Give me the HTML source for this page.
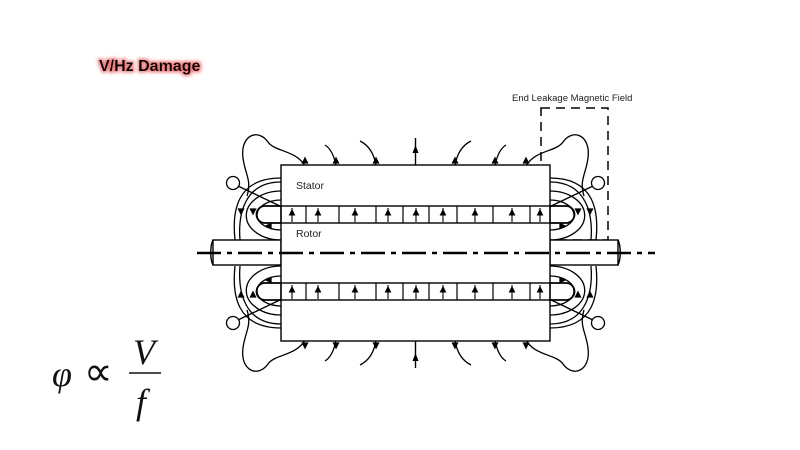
<!DOCTYPE html>
<html><head><meta charset="utf-8"><style>
html,body{margin:0;padding:0;background:#fff;width:800px;height:450px;overflow:hidden}
svg{position:absolute;left:0;top:0}
</style></head><body>
<svg width="800" height="450" viewBox="0 0 800 450" xmlns="http://www.w3.org/2000/svg">
<defs>
<filter id="glow" x="-20%" y="-50%" width="140%" height="200%">
<feMorphology operator="dilate" radius="1.5" in="SourceAlpha" result="d"/>
<feGaussianBlur in="d" stdDeviation="1.5" result="b"/>
<feFlood flood-color="#f08080"/><feComposite in2="b" operator="in" result="g"/>
<feMerge><feMergeNode in="g"/><feMergeNode in="SourceGraphic"/></feMerge>
</filter>
<g id="quad" fill="none" stroke="#000" stroke-width="1.3">
  <path d="M281,206 H265 A8.5,8.5 0 0 0 265,223 H281" stroke-width="1.8"/>
  <path d="M281,200 A24,15 0 0 0 281,230"/>
  <path d="M281,191 A34,24 0 0 0 281,240"/>
  <path d="M281,182 C244,182 238,215 240,240"/>
  <path d="M281,178 C236,178 232,212 235,240"/>
  <path d="M241,214 l-2.5,-5 l5,0 z" fill="#000"/>
  <path d="M253,214 l-2.5,-5 l5,0 z" fill="#000"/>
  <path d="M266,226 l5,-2.5 l0,5 z" fill="#000"/>
  <path d="M238,186 L284,208"/>
  <circle cx="233" cy="183" r="6.5" fill="#fff"/>
  <path d="M305,166 C296,150 275,152 268,142 C258,128 240,135 243,158 C245,174 252,180 247,196"/>
  <path d="M305,158 l-2.5,5 l5,0 z" fill="#000"/>
  <path d="M336,166 C334,155 330,148 325,145"/>
  <path d="M336,158 l-2.5,5 l5,0 z" fill="#000"/>
  <path d="M376,166 C374,152 368,145 360,141"/>
  <path d="M376,158 l-2.5,5 l5,0 z" fill="#000"/>
</g>
</defs>

<text x="99" y="71" font-family="Liberation Sans, sans-serif" font-weight="bold" font-size="16" fill="#000" filter="url(#glow)">V/Hz Damage</text>
<text x="512" y="101" font-family="Liberation Sans, sans-serif" font-size="9.5" fill="#222">End Leakage Magnetic Field</text>

<rect x="541" y="108" width="67" height="132" fill="none" stroke="#000" stroke-width="1.5" stroke-dasharray="9,6"/>

<use href="#quad"/>
<use href="#quad" transform="translate(831,0) scale(-1,1)"/>
<use href="#quad" transform="translate(0,506) scale(1,-1)"/>
<use href="#quad" transform="translate(831,506) scale(-1,-1)"/>

<g fill="none" stroke="#000" stroke-width="1.4">
  <rect x="213" y="240" width="68" height="25" fill="#fff"/>
  <rect x="550" y="240" width="68" height="25" fill="#fff"/>
  <path d="M213,240 C210,246 210,259 213,265"/>
  <path d="M618,240 C621,246 621,259 618,265"/>
  <rect x="281" y="165" width="269" height="176" fill="#fff"/>
  <rect x="281" y="206" width="269" height="17"/>
  <rect x="281" y="283" width="269" height="17"/>
  <path d="M415.5,138 V165 M415.5,341 V368"/>
</g>
<path d="M415.5,145 l-3,8 h6 z M415.5,353 l-3,8 h6 z" fill="#000"/>

<g stroke="#000" stroke-width="1.2" fill="#000">
  <path d="M306,206V223 M339,206V223 M376,206V223 M403,206V223 M429,206V223 M457,206V223 M493,206V223 M530,206V223
           M306,283V300 M339,283V300 M376,283V300 M403,283V300 M429,283V300 M457,283V300 M493,283V300 M530,283V300"/>
</g>
<g id="arr" stroke="#000" stroke-width="1.1" fill="#000">
  <path d="M292,222V208 M318,222V208 M355,222V208 M388,222V208 M416,222V208 M443,222V208 M475,222V208 M512,222V208 M540,222V208"/>
  <path d="M292,210l-2.5,5h5z M318,210l-2.5,5h5z M355,210l-2.5,5h5z M388,210l-2.5,5h5z M416,210l-2.5,5h5z M443,210l-2.5,5h5z M475,210l-2.5,5h5z M512,210l-2.5,5h5z M540,210l-2.5,5h5z"/>
</g>
<use href="#arr" transform="translate(0,77)"/>

<line x1="197" y1="253" x2="655" y2="253" stroke="#000" stroke-width="2.5" stroke-dasharray="24,6,5,6"/>

<text x="296" y="189" font-family="Liberation Sans, sans-serif" font-size="10.5" fill="#222">Stator</text>
<text x="296" y="237" font-family="Liberation Sans, sans-serif" font-size="10.5" fill="#222">Rotor</text>

<g font-family="Liberation Serif, serif" fill="#111" font-style="italic">
  <text x="52" y="386" font-size="36">φ</text>
  <text x="84" y="385" font-size="40" font-style="normal">∝</text>
  <text x="133" y="364" font-size="36">V</text>
  <text x="136" y="414" font-size="36">f</text>
</g>
<line x1="129" y1="373" x2="161" y2="373" stroke="#111" stroke-width="1.5"/>
</svg>
</body></html>
